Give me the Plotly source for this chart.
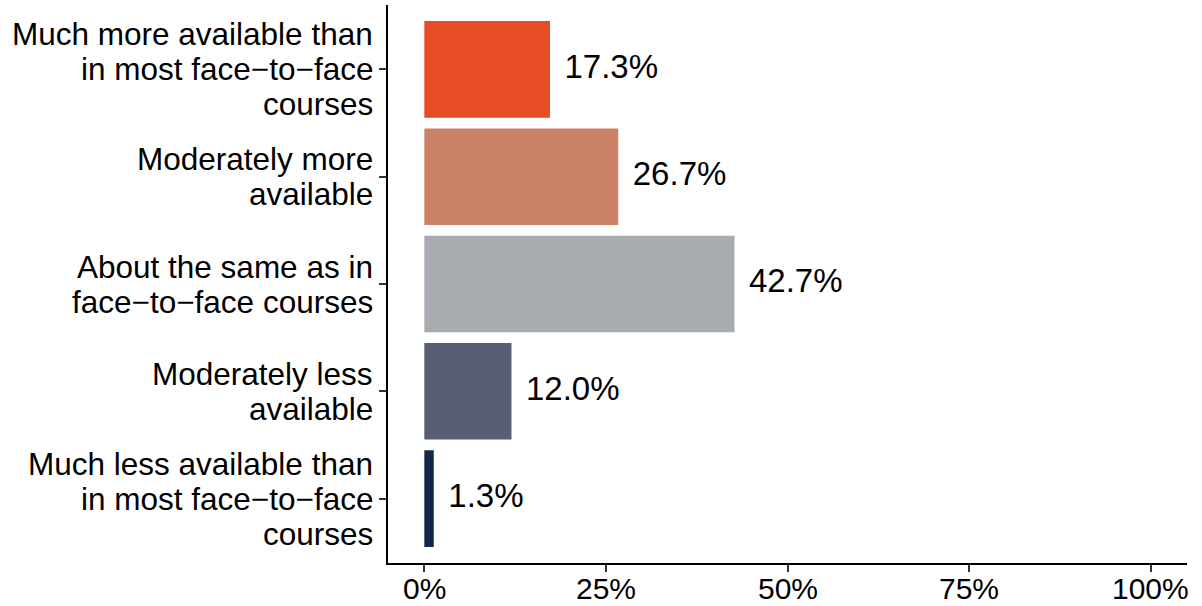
import plotly.graph_objects as go

categories = [
    "Much more available than<br>in most face−to−face<br>courses",
    "Moderately more<br>available",
    "About the same as in<br>face−to−face courses",
    "Moderately less<br>available",
    "Much less available than<br>in most face−to−face<br>courses",
]
values = [17.3, 26.7, 42.7, 12.0, 1.3]
labels = ["17.3%", "26.7%", "42.7%", "12.0%", "1.3%"]
colors = ["#E64C26", "#CC8266", "#A8ACB0", "#575E75", "#12284B"]
tick_vals = [0, 25, 50, 75, 100]
tick_text = ["0%", "25%", "50%", "75%", "100%"]

FONT = "Liberation Sans, Arial, Helvetica, sans-serif"

fig = go.Figure()
fig.add_trace(go.Bar(
    y=categories, x=values, orientation="h",
    marker=dict(color=colors, line=dict(width=0)),
    width=0.9, showlegend=False, hoverinfo="skip",
))
fig.add_trace(go.Scatter(
    y=categories, x=[v + 2 for v in values], mode="text",
    text=labels, textposition="middle right",
    textfont=dict(family=FONT, size=33, color="black"),
    showlegend=False, hoverinfo="skip",
))

# y-axis category labels drawn line by line for tighter line spacing
LINE_H = 35
for cat in categories:
    lines = cat.split("<br>")
    n = len(lines)
    for i, line in enumerate(lines):
        fig.add_annotation(
            x=0, xref="paper", y=cat, yref="y",
            text=line, showarrow=False,
            xanchor="right", yanchor="middle",
            xshift=-13, yshift=((n - 1) / 2 - i) * LINE_H,
            font=dict(family=FONT, size=31.5, color="black"),
        )

# x-axis tick labels placed close under the axis
for tv, tt in zip(tick_vals, tick_text):
    fig.add_annotation(
        x=tv, xref="x", y=0, yref="paper",
        text=tt, showarrow=False,
        xanchor="center", yanchor="top", yshift=-7,
        font=dict(family=FONT, size=30, color="black"),
    )

fig.update_layout(
    width=1202, height=606,
    margin=dict(l=388, r=15, t=5, b=43),
    paper_bgcolor="white", plot_bgcolor="white",
    font=dict(family=FONT, color="black"),
    bargap=0.1,
)
fig.update_xaxes(
    range=[-5, 105], tickvals=tick_vals,
    showline=True, linecolor="black", linewidth=2,
    ticks="outside", ticklen=7, tickwidth=2, tickcolor="#333333",
    showticklabels=False, automargin=False,
    showgrid=False, zeroline=False,
)
fig.update_yaxes(
    categoryorder="array", categoryarray=categories,
    range=[4.6, -0.6],
    showline=True, linecolor="black", linewidth=2,
    ticks="outside", ticklen=7, tickwidth=2, tickcolor="#333333",
    showticklabels=False, automargin=False,
    showgrid=False, zeroline=False,
)

fig.write_html(
    "out.html",
    config={"displayModeBar": False},
    post_script="document.body.style.margin='0';document.body.style.padding='0';",
)
